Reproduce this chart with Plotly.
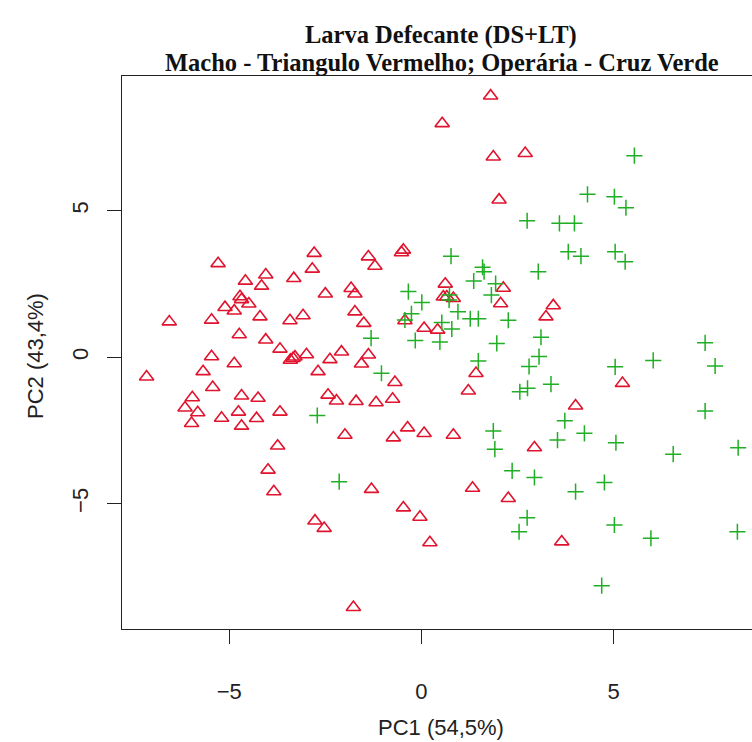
import plotly.graph_objects as go

# PCA scores, larva defecante (DS+LT)
macho_pc1 = [-7.15, -6.56, -6.15, -5.98, -5.96, -5.82, -5.68, -5.46, -5.46, -5.43,
             -5.29, -5.20, -5.11, -4.87, -4.87, -4.76, -4.74, -4.72, -4.68, -4.68,
             -4.68, -4.58, -4.49, -4.29, -4.25, -4.20, -4.16, -4.05, -4.05, -3.99,
             -3.84, -3.74, -3.68, -3.68, -3.42, -3.41, -3.34, -3.29, -3.32, -3.08,
             -2.99, -2.84, -2.79, -2.77, -2.69, -2.53, -2.50, -2.43, -2.38, -2.21,
             -2.08, -1.99, -1.83, -1.73, -1.73, -1.70, -1.77, -1.56, -1.50, -1.38,
             -1.38, -1.30, -1.21, -1.18, -0.75, -0.73, -0.69, -0.52, -0.47, -0.47,
             -0.43, -0.36, -0.04, 0.07, 0.07, 0.22, 0.42, 0.54, 0.62, 0.57,
             0.66, 0.83, 0.83, 1.22, 1.33, 1.42, 1.80, 1.87, 2.02, 2.06,
             2.13, 2.26, 2.70, 2.94, 3.24, 3.43, 3.65, 4.01, 5.23]
macho_pc2 = [-0.67, 1.21, -1.73, -2.26, -1.38, -1.89, -0.49, 1.27, 0.02, -1.03,
             3.20, -2.08, 1.70, 1.58, -0.22, -1.87, 0.77, 2.07, 1.97, -1.32,
             -2.35, 2.60, 1.82, -2.09, -1.40, 1.38, 2.43, 2.81, 0.59, -3.85,
             -4.59, -3.03, 0.28, -1.87, 1.25, -0.10, -0.04, 0.01, 2.69, 1.42,
             0.09, 3.01, 3.55, -5.59, -0.49, -5.84, 2.16, -1.29, -0.08, -1.49,
             0.18, -2.66, 2.35, 2.16, 1.55, -1.51, -8.54, -0.23, 1.16, 0.08,
             3.43, -4.51, 3.11, -1.55, -1.43, -2.75, -0.86, 3.57, 3.66, -5.14,
             1.25, -2.41, -5.46, 0.99, -2.60, -6.33, 0.93, 7.98, 2.50, 2.06,
             2.06, 2.01, -2.66, -1.15, -4.47, -0.55, 8.92, 6.84, 5.37, 1.83,
             2.36, -4.82, 6.96, -3.09, 1.38, 1.76, -6.30, -1.66, -0.89]

operaria_pc1 = [-2.71, -2.14, -1.31, -1.04, -0.43, -0.34, -0.26, -0.16, 0.01, 0.48,
                0.53, 0.73, 0.72, 0.77, 0.79, 0.95, 1.27, 1.48, 1.36, 1.48,
                1.59, 1.63, 1.82, 1.87, 1.91, 1.93, 1.96, 2.26, 2.36, 2.54,
                2.56, 2.76, 2.75, 2.75, 2.80, 2.94, 3.04, 3.06, 3.11, 3.37,
                3.54, 3.59, 3.73, 3.82, 3.98, 4.01, 4.15, 4.24, 4.32, 4.69,
                4.76, 5.02, 5.04, 5.04, 5.02, 5.06, 5.30, 5.32, 5.54, 5.97,
                6.03, 6.55, 7.38, 7.38, 7.64, 8.22, 8.24]
operaria_pc2 = [-1.99, -4.25, 0.65, -0.55, 1.27, 2.24, 1.48, 0.57, 1.87, 0.52,
                1.18, 2.12, 1.95, 3.45, 0.96, 1.55, 1.31, 1.31, 2.60, -0.13,
                3.07, 2.92, 2.12, -2.52, -3.14, 2.51, 0.47, 1.26, -3.88, -5.96,
                -1.18, -1.06, -5.48, 4.66, -0.32, -4.11, 2.92, 0.02, 0.68, -0.92,
                -2.83, 4.57, -2.17, 3.60, 4.57, -4.59, 3.45, -2.60, 5.56, -7.80,
                -4.28, 5.48, 3.60, -0.33, -5.73, -2.92, 3.26, 5.10, 6.88, -6.18,
                -0.11, -3.31, 0.49, -1.84, -0.30, -5.96, -3.09]

x_ticks = [-5, 0, 5]
y_ticks = [-5, 0, 5]

title_line1 = "Larva Defecante (DS+LT)"
title_line2 = "Macho - Triangulo Vermelho; Operária - Cruz Verde"
x_label = "PC1 (54,5%)"
y_label = "PC2 (43,4%)"

RED = "#E0142E"
GREEN = "#1FAE24"
AXIS = "#222222"
SANS = "Liberation Sans, Arial, sans-serif"
SERIF = "Liberation Serif, Times New Roman, serif"

fig = go.Figure()
fig.add_trace(go.Scatter(
    x=macho_pc1, y=macho_pc2, mode="markers", name="Macho",
    marker=dict(symbol="triangle-up-open", size=12.5, color=RED,
                line=dict(color=RED, width=1.6)),
))
fig.add_trace(go.Scatter(
    x=operaria_pc1, y=operaria_pc2, mode="markers", name="Operária",
    marker=dict(symbol="cross-thin-open", size=11.5, color=GREEN,
                line=dict(color=GREEN, width=1.5)),
))

axis_common = dict(
    showgrid=False, zeroline=False, showline=True, linecolor=AXIS, linewidth=1.3,
    ticks="outside", ticklen=14, tickwidth=1.3, tickcolor=AXIS,
    tickfont=dict(family=SANS, size=22, color="#222222"),
)
fig.update_xaxes(range=[-7.79, 8.60], tickvals=x_ticks, mirror=True,
                 ticklabelstandoff=28, **axis_common)
fig.update_yaxes(range=[-9.28, 9.60], tickvals=y_ticks, mirror=False,
                 tickangle=-90, ticklabelstandoff=10, **axis_common)

plot_w = 752 - 122
plot_h = 629 - 76

def px_x(px):
    return (px - 122) / plot_w

def px_y(py):
    return (629 - py) / plot_h

annotations = [
    dict(text=f"<b>{title_line1}</b>", x=px_x(441), y=px_y(35),
         font=dict(family=SERIF, size=24.5, color="#111111")),
    dict(text=f"<b>{title_line2}</b>", x=px_x(442), y=px_y(62),
         font=dict(family=SERIF, size=24.5, color="#111111")),
    dict(text=x_label, x=px_x(441), y=px_y(727),
         font=dict(family=SANS, size=22, color="#222222")),
    dict(text=y_label, x=px_x(35), y=px_y(356), textangle=-90,
         font=dict(family=SANS, size=22, color="#222222")),
]
for a in annotations:
    a.update(xref="paper", yref="paper", showarrow=False,
             xanchor="center", yanchor="middle")

fig.update_layout(
    width=752, height=742,
    margin=dict(l=122, r=0, t=76, b=113),
    paper_bgcolor="white", plot_bgcolor="white",
    showlegend=False,
    annotations=annotations,
)

fig.write_html("out.html")
